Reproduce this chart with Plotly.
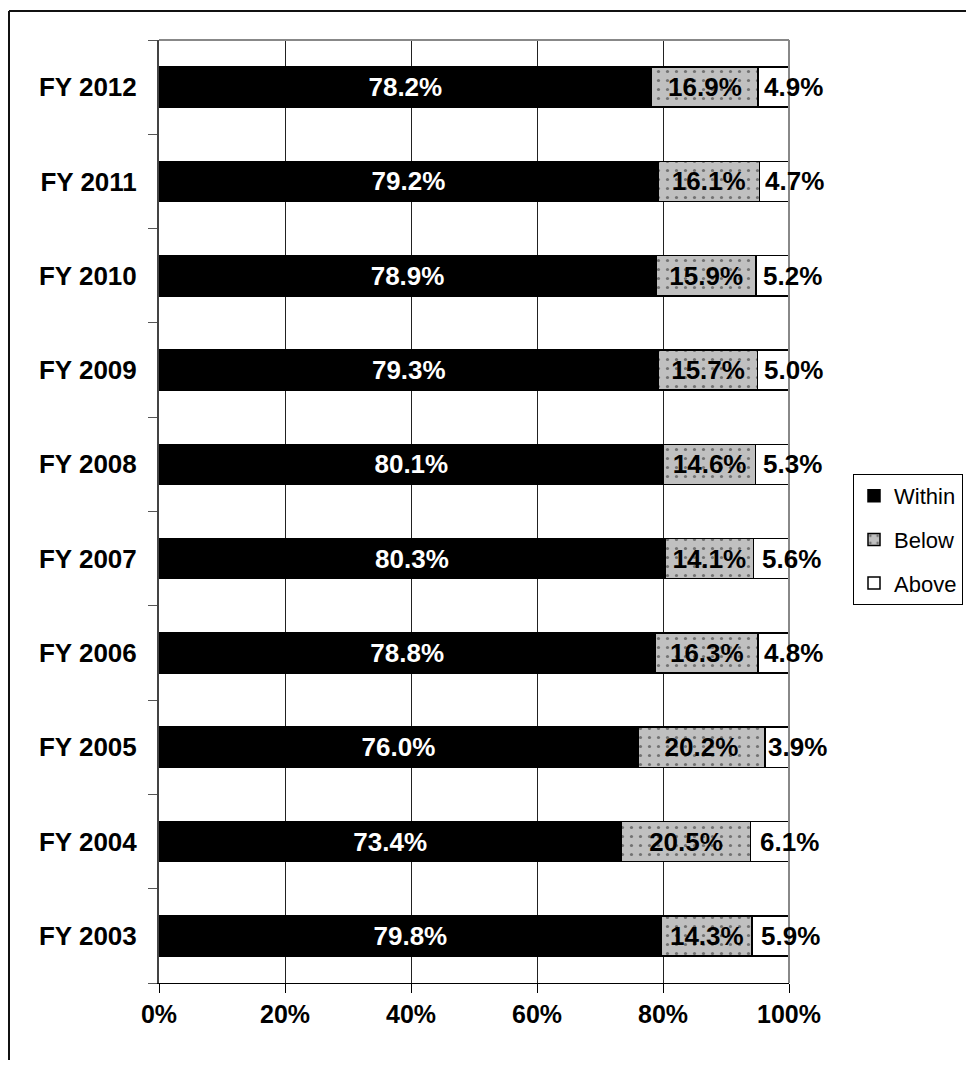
import plotly.graph_objects as go

years = ["FY 2003", "FY 2004", "FY 2005", "FY 2006", "FY 2007",
         "FY 2008", "FY 2009", "FY 2010", "FY 2011", "FY 2012"]
within = [79.8, 73.4, 76.0, 78.8, 80.3, 80.1, 79.3, 78.9, 79.2, 78.2]
below = [14.3, 20.5, 20.2, 16.3, 14.1, 14.6, 15.7, 15.9, 16.1, 16.9]
above = [5.9, 6.1, 3.9, 4.8, 5.6, 5.3, 5.0, 5.2, 4.7, 4.9]
x_ticks = [0, 20, 40, 60, 80, 100]
x_ticktext = ["0%", "20%", "40%", "60%", "80%", "100%"]

FONT = "Liberation Sans, Arial, sans-serif"
OFF = 8  # browser body margin
W, H = 974 - 2 * OFF, 1068 - 2 * OFF
L, T = 159 - OFF, 40 - OFF
R = W - (789 - OFF)
B = H - (983 - OFF)
pw, ph = W - L - R, H - T - B


def px_x(p):
    return (p - OFF - L) / pw


def px_y(p):
    return (H - B - (p - OFF)) / ph


fig = go.Figure()
fig.add_trace(go.Bar(
    y=years, x=within, name="Within", orientation="h", legendgroup="a",
    marker=dict(color="black", line=dict(color="black", width=1.5)),
    text=[f"{v:.1f}%" for v in within], textposition="inside",
    insidetextanchor="middle", textangle=0, constraintext="none",
    textfont=dict(color="white", size=26, family=FONT, weight="bold"),
    width=0.425))
fig.add_trace(go.Bar(
    y=years, x=below, name="Below", orientation="h", legendgroup="b",
    marker=dict(color="#c0c0c0", line=dict(color="black", width=1.5),
                pattern=dict(shape=".", fgcolor="#222", bgcolor="#c0c0c0",
                             size=9, solidity=0.1, fillmode="overlay")),
    text=[f"{v:.1f}%" for v in below], textposition="inside",
    insidetextanchor="middle", textangle=0, constraintext="none",
    textfont=dict(color="black", size=26, family=FONT, weight="bold"),
    width=0.425))
fig.add_trace(go.Bar(
    y=years, x=above, name="Above", orientation="h", legendgroup="c",
    marker=dict(color="white", line=dict(color="black", width=1.5)),
    textposition="none", width=0.425))

for yr, w, b, a in zip(years, within, below, above):
    fig.add_annotation(x=w + b + a / 2, y=yr, xref="x", yref="y",
                       text=f"{a:.1f}%", showarrow=False, xshift=20,
                       font=dict(color="black", size=26, family=FONT, weight="bold"))

fig.update_layout(
    width=W, height=H, barmode="stack", bargap=0.575,
    plot_bgcolor="white", paper_bgcolor="white",
    margin=dict(l=L, r=R, t=T, b=B, pad=0),
    font=dict(family=FONT, color="black"),
    legend=dict(xref="container", yref="container",
                x=(853 - OFF) / W, y=1 - (474 - OFF) / H,
                xanchor="left", yanchor="top",
                bordercolor="black", borderwidth=1, traceorder="grouped",
                tracegroupgap=12, font=dict(size=22, family=FONT, color="black"),
                itemwidth=30),
    xaxis=dict(range=[0, 100], tickvals=x_ticks, ticktext=x_ticktext,
               showgrid=True, gridcolor="#222", gridwidth=1, zeroline=False,
               showline=True, linecolor="black", linewidth=1,
               ticks="outside", ticklen=9, tickcolor="black",
               tickfont=dict(size=25, family=FONT, weight="bold", color="black")),
    yaxis=dict(type="category", categoryorder="array", categoryarray=years,
               showgrid=False, zeroline=False, showline=True,
               linecolor="#444", linewidth=2, ticks="outside", ticklen=9,
               tickcolor="#555", tickson="boundaries", ticklabelstandoff=15,
               tickfont=dict(size=26, family=FONT, weight="bold", color="black")),
    shapes=[
        dict(type="line", xref="paper", yref="paper", x0=0, x1=1, y0=1, y1=1,
             line=dict(color="#888", width=2)),
        dict(type="line", xref="paper", yref="paper", x0=1, x1=1, y0=0, y1=1,
             line=dict(color="#888", width=2)),
        dict(type="line", xref="paper", yref="paper", x0=px_x(9), x1=px_x(990),
             y0=px_y(11), y1=px_y(11), line=dict(color="#111", width=2)),
        dict(type="line", xref="paper", yref="paper", x0=px_x(9), x1=px_x(9),
             y0=px_y(11), y1=px_y(1090), line=dict(color="#111", width=2)),
    ],
)

fig.write_html("out.html")
